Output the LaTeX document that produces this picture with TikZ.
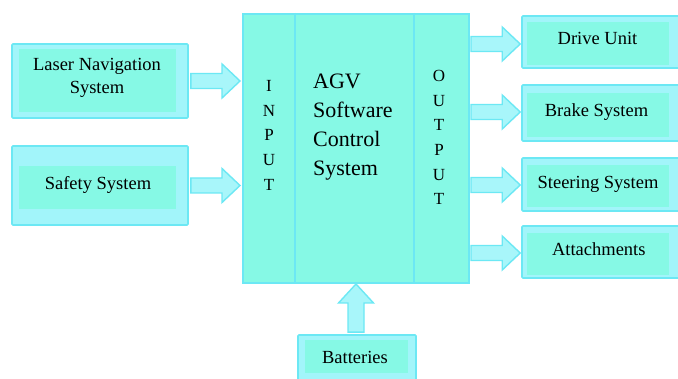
\documentclass[tikz,border=0pt]{standalone}
\usepackage{fontspec}
\setmainfont{Liberation Serif}
\usetikzlibrary{calc}
\definecolor{cyanE}{HTML}{6CE8F4}
\definecolor{cyanL}{HTML}{A2F5FA}
\definecolor{mint}{HTML}{86F9E5}
\definecolor{arrL}{HTML}{A8F6FA}
\newcommand\harr[2]{\draw[barrow] let \p1=#1, \p2=#2 in
  (\x1,\y2+7.5pt) -- (\x2-18pt,\y2+7.5pt) -- (\x2-18pt,\y2+17pt) -- (\x2,\y2)
  -- (\x2-18pt,\y2-17pt) -- (\x2-18pt,\y2-7.5pt) -- (\x1,\y2-7.5pt) -- cycle;}
\newcommand\varr[2]{\draw[barrow] let \p1=#1, \p2=#2 in
  (\x2-8pt,\y1) -- (\x2-8pt,\y2-19pt) -- (\x2-17.5pt,\y2-19pt) -- (\x2,\y2)
  -- (\x2+17.5pt,\y2-19pt) -- (\x2+8pt,\y2-19pt) -- (\x2+8pt,\y1) -- cycle;}
\begin{document}
\begin{tikzpicture}[x=1pt,y=-1pt,
  outerbox/.style={draw=cyanE, fill=cyanL, line width=1.6pt, inner sep=0pt, rounded corners=1pt},
  innerbox/.style={fill=mint, inner sep=0pt},
  lbl/.style={inner sep=0pt, align=center, font=\fontsize{18.5}{23}\selectfont},
  mainbox/.style={draw=cyanE, fill=mint, line width=2pt, inner sep=0pt},
  divider/.style={draw=cyanE, line width=2pt},
  letters/.style={inner sep=0pt, align=center, font=\fontsize{17}{24.7}\selectfont},
  barrow/.style={draw=cyanE, fill=arrL, line width=1.4pt, line join=miter}
]
\useasboundingbox (0,0) rectangle (678,379);
\fill[white] (0,0) rectangle (678,379);

% main block
\node[mainbox, minimum width=226pt, minimum height=269pt] (main) at (356,148.5) {};
\draw[divider] ($(main.north west)+(53,0)$) -- ($(main.south west)+(53,0)$);
\draw[divider] ($(main.north west)+(172,0)$) -- ($(main.south west)+(172,0)$);
\node[letters] (input) at (269,135.3) {I\\N\\P\\U\\T};
\node[letters, font=\fontsize{17}{24.66}\selectfont] (output) at (439,137.5) {O\\U\\T\\P\\U\\T};
\node[inner sep=0pt, align=left, anchor=west, font=\fontsize{22}{28.7}\selectfont] (agv) at (313,127.1) {AGV\\Software\\Control\\System};

% left boxes
\node[outerbox, minimum width=176pt, minimum height=74pt] (laser) at (100,81) {};
\node[innerbox, minimum width=157pt, minimum height=63pt] (laserin) at (97.5,80.5) {};
\node[lbl] (lasert) at (97,78.3) {Laser Navigation\\System};

\node[outerbox, minimum width=176pt, minimum height=79pt] (safety) at (100,185.5) {};
\node[innerbox, minimum width=157pt, minimum height=43pt] (safetyin) at (97.5,187.5) {};
\node[lbl] (safetyt) at (98,184.5) {Safety System};

% right boxes
\node[outerbox, minimum width=163pt, minimum height=52pt] (drive) at (603.5,42) {};
\node[innerbox, minimum width=142pt, minimum height=43pt] (drivein) at (598,43.5) {};
\node[lbl] (drivet) at (597.5,38.2) {Drive Unit};

\node[outerbox, minimum width=163pt, minimum height=56pt] (brake) at (603.5,113) {};
\node[innerbox, minimum width=142pt, minimum height=44pt] (brakein) at (598,115) {};
\node[lbl] (braket) at (596.5,111.8) {Brake System};

\node[outerbox, minimum width=163pt, minimum height=53pt] (steer) at (603.5,184.5) {};
\node[innerbox, minimum width=142pt, minimum height=42pt] (steerin) at (598,186) {};
\node[lbl] (steert) at (598,184.1) {Steering System};

\node[outerbox, minimum width=163pt, minimum height=52pt] (attach) at (603.5,252) {};
\node[innerbox, minimum width=142pt, minimum height=42pt] (attachin) at (598,254) {};
\node[lbl] (attacht) at (598.8,248.9) {Attachments};

% batteries
\node[outerbox, minimum width=118pt, minimum height=60pt] (batt) at (357,365) {};
\node[innerbox, minimum width=103pt, minimum height=33pt] (battin) at (356.5,356.5) {};
\node[lbl] (battt) at (355,357.2) {Batteries};

% block arrows
\harr{($(laser.east)+(2,0)$)}{($(main.west|-laser.east)+(-2,0)$)}
\harr{($(safety.east)+(2,0)$)}{($(main.west|-safety.east)+(-2,0)$)}
\harr{($(main.east|-drive.west)+(1,2)$)}{($(drive.west)+(-1,2)$)}
\harr{($(main.east|-brake.west)+(1,-1)$)}{($(brake.west)+(-1,-1)$)}
\harr{($(main.east|-steer.west)+(1,0.5)$)}{($(steer.west)+(-1,0.5)$)}
\harr{($(main.east|-attach.west)+(1,1)$)}{($(attach.west)+(-1,1)$)}
\varr{($(batt.north)+(0,-2)$)}{(main.south)}
\end{tikzpicture}
\end{document}
